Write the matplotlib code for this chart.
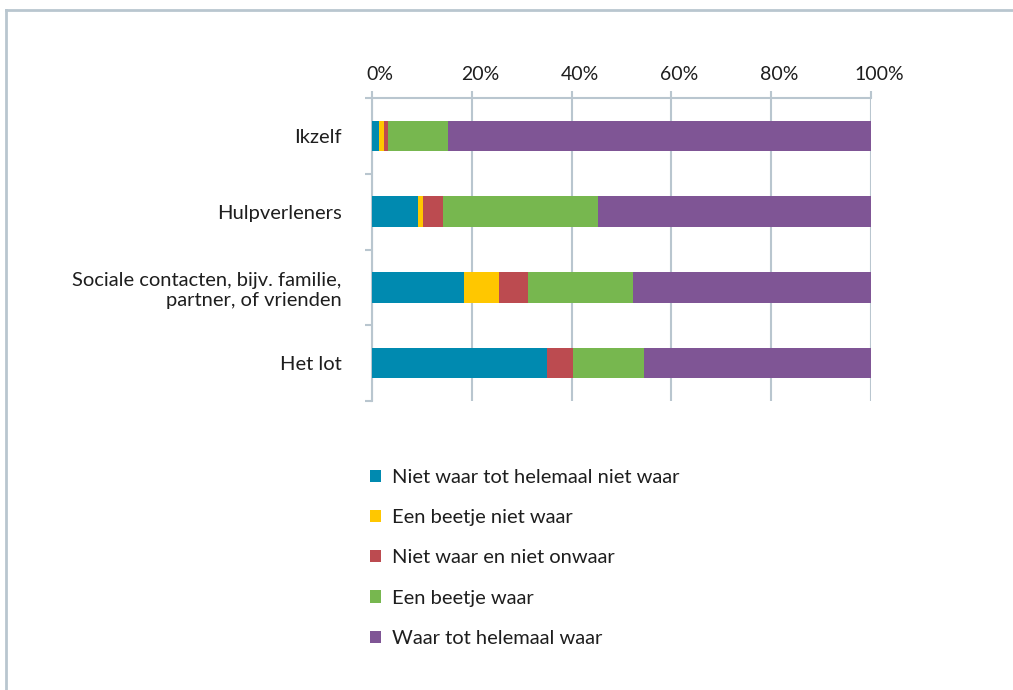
import matplotlib
matplotlib.use("Agg")
import matplotlib.pyplot as plt
from matplotlib.patches import Patch
from matplotlib.lines import Line2D
import matplotlib.transforms as mtransforms
import numpy as np

categories = ["Ikzelf", "Hulpverleners", "Sociale contacten, bijv. familie,\npartner, of vrienden", "Het lot"]
series_names = ["Niet waar tot helemaal niet waar", "Een beetje niet waar",
                "Niet waar en niet onwaar", "Een beetje waar", "Waar tot helemaal waar"]
niet_waar = [1.5, 9.3, 18.4, 35.0]
beetje_niet = [0.9, 1.0, 7.0, 0.0]
neutraal = [0.8, 4.0, 5.9, 5.2]
beetje_waar = [12.0, 30.9, 21.0, 14.3]
waar = [84.8, 54.8, 47.7, 45.5]
xticks = [0, 20, 40, 60, 80, 100]
xticklabels = ["0%", "20%", "40%", "60%", "80%", "100%"]

colors = ["#008AB0", "#FFC700", "#BC4B50", "#77B74F", "#7F5595"]
grid_c = "#B9C6CF"
text_c = "#1E1E1E"

plt.rcParams['font.family'] = ['Lato', 'DejaVu Sans']

W, H = 1013, 690
fig = plt.figure(figsize=(W / 100, H / 100), dpi=100)
ax = fig.add_axes([372 / W, 1 - 401 / H, (871 - 372) / W, (401 - 98) / H])

series = [niet_waar, beetje_niet, neutraal, beetje_waar, waar]
y = np.arange(len(categories))
left = np.zeros(len(categories))
for vals, c, name in zip(series, colors, series_names):
    ax.barh(y, vals, left=left, height=0.4, color=c, edgecolor="none", label=name, zorder=3)
    left += np.array(vals)

ax.set_xlim(0, 100)
ax.set_ylim(len(categories) - 0.5, -0.5)

ax.xaxis.tick_top()
ax.set_xticks(xticks)
ax.set_xticklabels(xticklabels, fontsize=14, color=text_c)
ax.tick_params(axis='x', which='major', direction='out', length=5, width=1.5, color=grid_c, pad=6)
offset = mtransforms.ScaledTranslation(8 / 100, 0, fig.dpi_scale_trans)
for lab in ax.get_xticklabels():
    lab.set_transform(lab.get_transform() + offset)
ax.grid(axis='x', color=grid_c, linewidth=1.5, zorder=0)

ax.set_yticks(y)
ax.set_yticklabels(categories, fontsize=14.5, color=text_c, ha='right', multialignment='right')
ax.tick_params(axis='y', which='major', length=0, pad=22)
ax.set_yticks(np.arange(len(categories) + 1) - 0.5, minor=True)
ax.tick_params(axis='y', which='minor', direction='out', length=5, width=1.5, color=grid_c)

for s in ['right', 'bottom']:
    ax.spines[s].set_visible(False)
for s in ['left', 'top']:
    ax.spines[s].set_color(grid_c)
    ax.spines[s].set_linewidth(1.5)

# outer frame lines
fig.add_artist(Line2D([6 / W, 1.0], [1 - 10 / H, 1 - 10 / H], transform=fig.transFigure,
                      color=grid_c, linewidth=2))
fig.add_artist(Line2D([6 / W, 6 / W], [1 - 10 / H, 0], transform=fig.transFigure,
                      color=grid_c, linewidth=2))

handles = [Patch(facecolor=c, edgecolor='none') for c in colors]
fig.legend(handles, series_names, loc='upper left', bbox_to_anchor=(352 / W, 1 - 451 / H),
           frameon=False, fontsize=14.5, handlelength=0.55, handleheight=0.55,
           handletextpad=0.55, labelspacing=1.15, labelcolor=text_c)

fig.savefig("out.png", dpi=100)
